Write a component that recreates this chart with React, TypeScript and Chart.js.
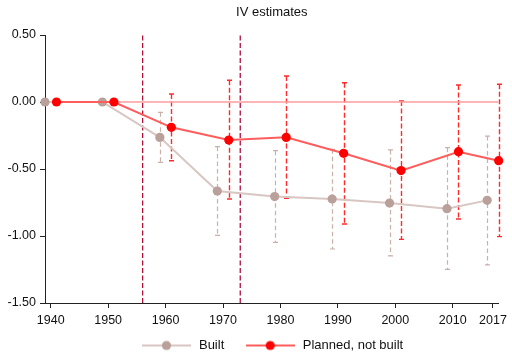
import { useEffect, useRef } from 'react';
import { Chart, registerables } from 'chart.js';

Chart.register(...registerables);

const xTickValues = [1940, 1950, 1960, 1970, 1980, 1990, 2000, 2010, 2017];
const yTickValues = [-1.5, -1.0, -0.5, 0, 0.5];

const builtX = [1939, 1949, 1959, 1969, 1979, 1989, 1999, 2009, 2016];
const builtEst = [0, 0, -0.264, -0.664, -0.706, -0.724, -0.754, -0.796, -0.734];
const builtLo = [null, null, -0.45, -0.995, -1.047, -1.097, -1.149, -1.249, -1.216];
const builtHi = [null, null, -0.077, -0.333, -0.363, -0.353, -0.358, -0.341, -0.254];

const plannedX = [1941, 1951, 1961, 1971, 1981, 1991, 2001, 2011, 2018];
const plannedEst = [0, 0, -0.189, -0.284, -0.264, -0.383, -0.512, -0.371, -0.438];
const plannedLo = [null, null, -0.438, -0.724, -0.719, -0.91, -1.025, -0.873, -1.005];
const plannedHi = [null, null, 0.06, 0.162, 0.194, 0.144, 0.007, 0.127, 0.132];

const policyYears = [1956, 1973];
const xRange = [1939, 2018];
const yRange = [-1.5, 0.5];

const BUILT_LINE = '#d8c6c2';
const BUILT_MARK = '#b9a09b';
const BUILT_ERR = '#c9b0ab';
const PLAN_LINE = '#ff5c5c';
const PLAN_MARK = '#ff0000';
const PLAN_ERR = '#ff2a2a';
const ZERO_LINE = '#ff9c9c';
const POLICY = '#b0103a';
const FONT = 'Liberation Sans, Arial, Helvetica, sans-serif';

function legendImage(line: string, mark: string) {
  const c = document.createElement('canvas');
  c.width = 49;
  c.height = 12;
  const ctx = c.getContext('2d')!;
  ctx.strokeStyle = line;
  ctx.lineWidth = 2;
  ctx.beginPath();
  ctx.moveTo(0, 6);
  ctx.lineTo(49, 6);
  ctx.stroke();
  ctx.fillStyle = mark;
  ctx.beginPath();
  ctx.arc(24.5, 6, 4.6, 0, Math.PI * 2);
  ctx.fill();
  return c;
}

const errorBarPlugin = {
  id: 'errorBars',
  beforeDatasetsDraw(chart: any) {
    const { ctx, scales } = chart;
    const xs = scales.x;
    const ys = scales.y;
    chart.data.datasets.forEach((ds: any, di: number) => {
      if (!ds.errLo || !chart.isDatasetVisible(di)) return;
      ctx.save();
      ctx.strokeStyle = ds.errColor;
      ctx.lineWidth = ds.errWidth;
      ds.data.forEach((p: any, i: number) => {
        const lo = ds.errLo[i];
        const hi = ds.errHi[i];
        if (lo == null || hi == null) return;
        const px = Math.round(xs.getPixelForValue(p.x)) + 0.5;
        const pLo = ys.getPixelForValue(lo);
        const pHi = ys.getPixelForValue(hi);
        ctx.setLineDash(ds.errDash);
        ctx.beginPath();
        ctx.moveTo(px, pHi);
        ctx.lineTo(px, pLo);
        ctx.stroke();
        ctx.setLineDash([]);
        ctx.beginPath();
        ctx.moveTo(px - 2.5, pHi);
        ctx.lineTo(px + 2.5, pHi);
        ctx.moveTo(px - 2.5, pLo);
        ctx.lineTo(px + 2.5, pLo);
        ctx.stroke();
      });
      ctx.restore();
    });
  },
};

export default function App() {
  const ref = useRef<HTMLCanvasElement>(null);

  useEffect(() => {
    if (!ref.current) return;
    Chart.defaults.font.family = FONT;
    const builtImg = legendImage(BUILT_LINE, BUILT_MARK);
    const planImg = legendImage(PLAN_LINE, PLAN_MARK);

    const datasets: any[] = [
      {
        label: 'Planned, not built',
        data: plannedX.map((x, i) => ({ x, y: plannedEst[i] })),
        borderColor: PLAN_LINE,
        backgroundColor: PLAN_MARK,
        pointBackgroundColor: PLAN_MARK,
        pointBorderWidth: 0,
        pointRadius: 4.6,
        borderWidth: 2,
        tension: 0,
        clip: false,
        errLo: plannedLo,
        errHi: plannedHi,
        errColor: PLAN_ERR,
        errWidth: 1.4,
        errDash: [5, 2.5],
      },
      {
        label: 'Built',
        data: builtX.map((x, i) => ({ x, y: builtEst[i] })),
        borderColor: BUILT_LINE,
        backgroundColor: BUILT_MARK,
        pointBackgroundColor: BUILT_MARK,
        pointBorderWidth: 0,
        pointRadius: 4.6,
        borderWidth: 2,
        tension: 0,
        clip: false,
        errLo: builtLo,
        errHi: builtHi,
        errColor: BUILT_ERR,
        errWidth: 1.2,
        errDash: [4.5, 3],
      },
      {
        label: 'zero',
        data: xRange.map((x) => ({ x, y: 0 })),
        borderColor: ZERO_LINE,
        borderWidth: 1.6,
        pointRadius: 0,
      },
      ...policyYears.map((yr) => ({
        label: 'policy',
        data: yRange.map((y) => ({ x: yr, y })),
        borderColor: POLICY,
        borderWidth: 1.3,
        borderDash: [5, 2.5],
        pointRadius: 0,
      })),
    ];

    const chart = new Chart(ref.current, {
      type: 'line',
      data: { datasets },
      plugins: [errorBarPlugin],
      options: {
        animation: false,
        responsive: false,
        layout: { padding: { left: 0, right: 11.5, top: 0, bottom: 0 } },
        scales: {
          x: {
            type: 'linear',
            min: xRange[0],
            max: xRange[1],
            afterBuildTicks: (axis: any) => {
              axis.ticks = xTickValues.map((v) => ({ value: v }));
            },
            afterFit: (axis: any) => {
              axis.height = 16;
              axis._computeLabelArea = () => undefined;
            },
            ticks: {
              autoSkip: false,
              maxRotation: 0,
              padding: 5,
              color: '#111',
              font: { size: 12.5 },
              callback: (v: any) => String(v),
            },
            grid: { drawOnChartArea: false, drawTicks: true, tickLength: 5, color: '#222' },
            border: { display: true, color: '#222', width: 1 },
          },
          y: {
            type: 'linear',
            min: yRange[0],
            max: yRange[1],
            afterBuildTicks: (axis: any) => {
              axis.ticks = yTickValues.map((v) => ({ value: v }));
            },
            afterFit: (axis: any) => {
              axis.width = 45;
            },
            ticks: {
              padding: 4,
              color: '#111',
              font: { size: 12.5 },
              callback: (v: any) => Number(v).toFixed(2),
            },
            grid: { drawOnChartArea: false, drawTicks: true, tickLength: 5, color: '#222' },
            border: { display: true, color: '#222', width: 1 },
          },
        },
        plugins: {
          title: {
            display: true,
            text: 'IV estimates',
            fullSize: false,
            color: '#111',
            font: { size: 13, weight: 'normal' },
            padding: { top: 5, bottom: 14.4 },
          },
          legend: {
            position: 'bottom',
            fullSize: false,
            maxHeight: 35,
            labels: {
              usePointStyle: true,
              pointStyleWidth: 52,
              padding: 20,
              color: '#111',
              font: { size: 13 },
              generateLabels: () => [
                { text: 'Built', pointStyle: builtImg, datasetIndex: 1, fontColor: '#111', hidden: false, lineWidth: 0 },
                { text: 'Planned, not built', pointStyle: planImg, datasetIndex: 0, fontColor: '#111', hidden: false, lineWidth: 0 },
              ] as any,
            },
          },
          tooltip: { enabled: false },
        },
      } as any,
    });
    return () => chart.destroy();
  }, []);

  return (
    <div style={{ position: 'fixed', left: 0, top: 0, width: 512, height: 354, background: '#fff' }}>
      <canvas ref={ref} width={512} height={354} />
    </div>
  );
}
